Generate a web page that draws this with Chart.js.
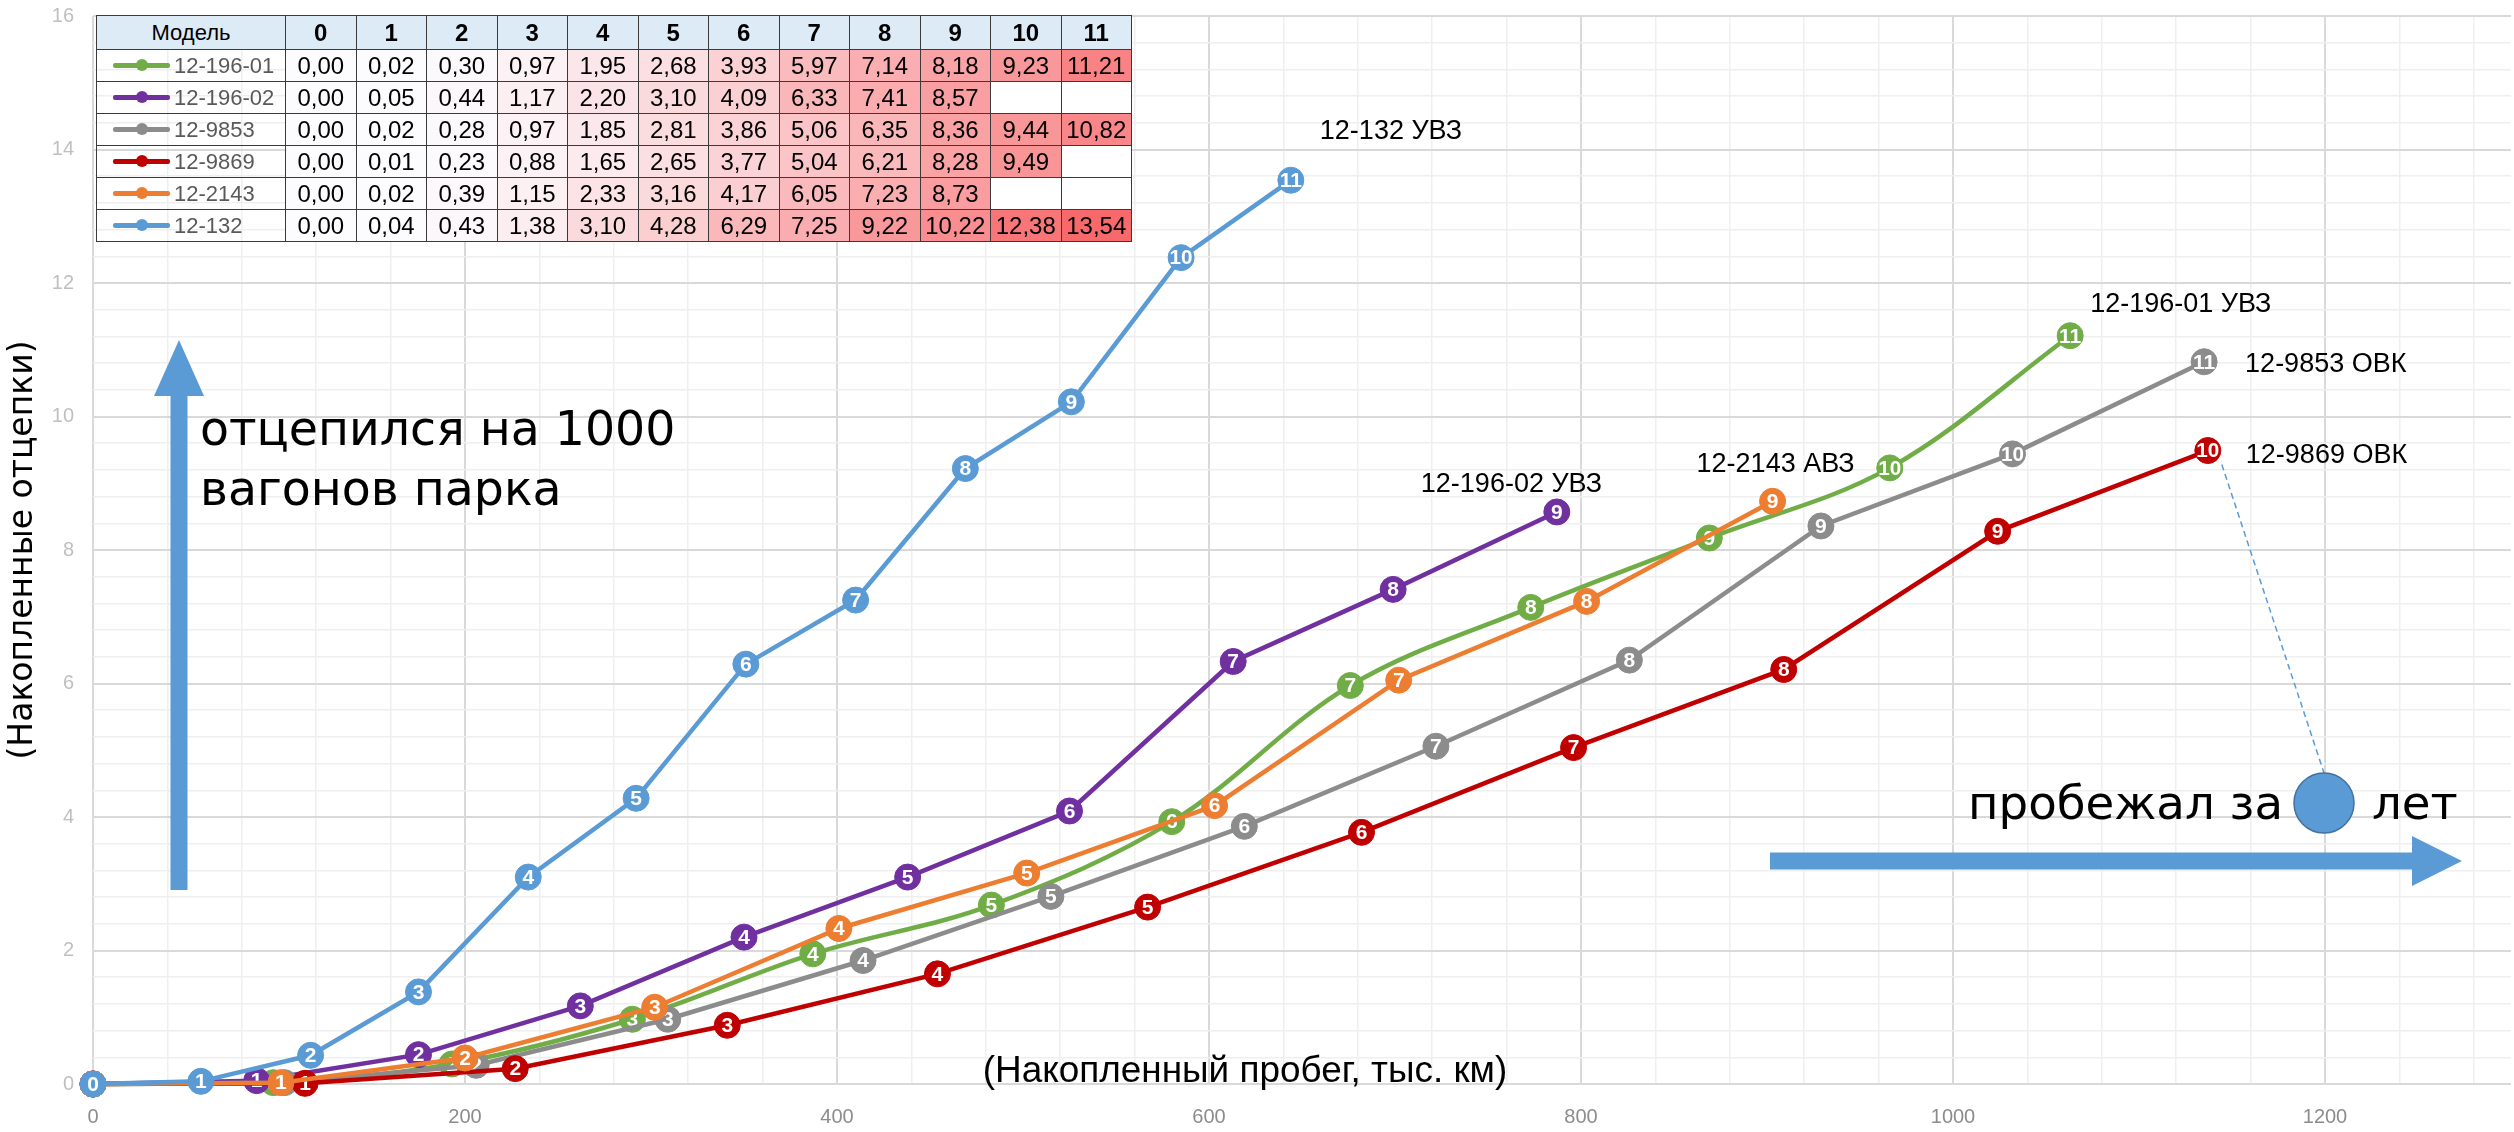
<!DOCTYPE html>
<html>
<head>
<meta charset="utf-8">
<script src="https://cdn.jsdelivr.net/npm/chart.js@4.4.1/dist/chart.umd.min.js"></script>
<style>
html,body{margin:0;padding:0;background:#fff;}
#wrap{position:relative;width:2514px;height:1132px;overflow:hidden;}
#c{position:absolute;left:0;top:0;}
#tbl{position:absolute;left:96px;top:15px;border-collapse:collapse;table-layout:fixed;width:1035px;
  font-family:'Liberation Sans',Arial,sans-serif;font-size:24px;color:#000;}
#tbl th,#tbl td{border:1.5px solid #3a3a3a;padding:0;text-align:center;white-space:nowrap;overflow:hidden;}
#tbl th{background:#DDEBF7;height:33px;font-weight:bold;}
#tbl th.m{font-weight:normal;font-size:22px;}
#tbl td{height:31px;}
#tbl td.m{text-align:left;padding-left:16px;color:#595959;font-size:22px;background:transparent;}
.lg{display:inline-block;position:relative;width:57px;height:14px;vertical-align:middle;margin-right:4px;top:-2px;}
.lg .ln{position:absolute;left:0;top:5px;width:57px;height:5px;border-radius:2px;}
.lg .dt{position:absolute;left:23px;top:1px;width:12px;height:12px;border-radius:50%;}
</style>
</head>
<body>
<div id="wrap">
<canvas id="c" width="2514" height="1132"></canvas>
<table id="tbl"></table>
</div>
<script>
// ---------------- DATA ----------------
const yearLabels = ['0','1','2','3','4','5','6','7','8','9','10','11'];
const modelNames = ['12-196-01','12-196-02','12-9853','12-9869','12-2143','12-132'];
const plantNames = ['УВЗ','УВЗ','ОВК','ОВК','АВЗ','УВЗ'];

// cumulative mileage, thousand km (x)
const mileage_12_196_01 = [0, 97, 193, 290, 387, 483, 580, 676, 773, 869, 966, 1063];
const mileage_12_196_02 = [0, 88, 175, 262, 350, 438, 525, 613, 699, 787];
const mileage_12_9853   = [0, 103, 206, 309, 414, 515, 619, 722, 826, 929, 1032, 1135];
const mileage_12_9869   = [0, 114, 227, 341, 454, 567, 682, 796, 909, 1024, 1137];
const mileage_12_2143   = [0, 101, 200, 302, 401, 502, 603, 702, 803, 903];
const mileage_12_132    = [0, 58, 117, 175, 234, 292, 351, 410, 469, 526, 585, 644];

// cumulative uncouplings per 1000 wagons (y)
const values_12_196_01 = [0.00, 0.02, 0.30, 0.97, 1.95, 2.68, 3.93, 5.97, 7.14, 8.18, 9.23, 11.21];
const values_12_196_02 = [0.00, 0.05, 0.44, 1.17, 2.20, 3.10, 4.09, 6.33, 7.41, 8.57];
const values_12_9853   = [0.00, 0.02, 0.28, 0.97, 1.85, 2.81, 3.86, 5.06, 6.35, 8.36, 9.44, 10.82];
const values_12_9869   = [0.00, 0.01, 0.23, 0.88, 1.65, 2.65, 3.77, 5.04, 6.21, 8.28, 9.49];
const values_12_2143   = [0.00, 0.02, 0.39, 1.15, 2.33, 3.16, 4.17, 6.05, 7.23, 8.73];
const values_12_132    = [0.00, 0.04, 0.43, 1.38, 3.10, 4.28, 6.29, 7.25, 9.22, 10.22, 12.38, 13.54];

const xTickLabels = ['0','200','400','600','800','1000','1200'];
const yTickLabels = ['0','2','4','6','8','10','12','14','16'];

// ---------------- STYLE ----------------
const seriesColors = ['#70AD47','#7030A0','#8C8C8C','#C00000','#ED7D31','#5B9BD5'];
const smoothSeries = [true,false,false,false,false,false];
const ARROW = '#5B9BD5';

const allMileage = [mileage_12_196_01, mileage_12_196_02, mileage_12_9853, mileage_12_9869, mileage_12_2143, mileage_12_132];
const allValues  = [values_12_196_01, values_12_196_02, values_12_9853, values_12_9869, values_12_2143, values_12_132];

// ---------------- TABLE ----------------
(function buildTable(){
  const tbl = document.getElementById('tbl');
  let maxV = 0;
  allValues.forEach(a => a.forEach(v => { if (v > maxV) maxV = v; }));
  const lo = [252,252,255], hi = [248,105,107];
  const heat = v => {
    const t = v / maxV;
    const c = lo.map((l,i) => Math.round(l + (hi[i]-l)*t));
    return 'rgb(' + c.join(',') + ')';
  };
  let html = '<colgroup><col style="width:189px">';
  yearLabels.forEach(() => html += '<col style="width:70.5px">');
  html += '</colgroup><tr><th class="m">Модель</th>';
  yearLabels.forEach(y => html += '<th>' + y + '</th>');
  html += '</tr>';
  modelNames.forEach((m, r) => {
    html += '<tr><td class="m"><span class="lg"><span class="ln" style="background:' + seriesColors[r] +
      '"></span><span class="dt" style="background:' + seriesColors[r] + '"></span></span>' + m + '</td>';
    yearLabels.forEach((y, i) => {
      const v = allValues[r][i];
      if (v === undefined) html += '<td style="background:#fff"></td>';
      else html += '<td style="background:' + heat(v) + '">' + v.toFixed(2).replace('.', ',') + '</td>';
    });
    html += '</tr>';
  });
  tbl.innerHTML = html;
})();

// ---------------- CHART ----------------
const isMult = (v, s) => Math.abs(v / s - Math.round(v / s)) < 1e-6;

const datasets = modelNames.map((name, i) => ({
  label: name + ' ' + plantNames[i],
  data: allMileage[i].map((x, k) => ({ x: x, y: allValues[i][k] })),
  borderColor: seriesColors[i],
  backgroundColor: seriesColors[i],
  pointBackgroundColor: seriesColors[i],
  pointBorderColor: seriesColors[i],
  pointRadius: 13,
  pointBorderWidth: 1,
  pointHoverRadius: 13,
  borderWidth: 4.5,
  tension: smoothSeries[i] ? 0.35 : 0,
  fill: false,
  clip: false,
  order: modelNames.length - i
}));

function fitFont(ctx, text, family, weight, width) {
  ctx.font = weight + ' 100px ' + family;
  const w = ctx.measureText(text).width;
  return 100 * width / w;
}

const pointLabels = {
  id: 'pointLabels',
  afterDatasetDraw(chart, args) {
    const ctx = chart.ctx;
    const meta = args.meta;
    ctx.save();
    ctx.fillStyle = '#ffffff';
    ctx.textAlign = 'center';
    ctx.textBaseline = 'middle';
    ctx.font = 'bold 21px "Liberation Sans Narrow","Liberation Sans",sans-serif';
    meta.data.forEach((pt, k) => {
      ctx.fillText(yearLabels[k], pt.x, pt.y + 1, 23);
    });
    ctx.restore();
  }
};

// label offsets (px) from last point of each series: [dx to left edge, dy to center]
const endLabelOffsets = [[20,-31],[-136,-27],[41,3],[38,5],[-76,-37],[29,-49]];

const noPad = s => { s.paddingLeft = 0; s.paddingRight = 0; s.paddingTop = 0; s.paddingBottom = 0; };

const annotate = {
  id: 'annotate',
  beforeDatasetsDraw(chart) {
    const ctx = chart.ctx;
    ctx.save();
    ctx.fillStyle = ARROW;
    // vertical arrow
    const vx = 179, vBottom = 890, vTip = 340, vHead = 56, vShaft = 17, vHeadW = 50;
    ctx.fillRect(vx - vShaft/2, vTip + vHead - 1, vShaft, vBottom - vTip - vHead + 1);
    ctx.beginPath();
    ctx.moveTo(vx, vTip); ctx.lineTo(vx + vHeadW/2, vTip + vHead); ctx.lineTo(vx - vHeadW/2, vTip + vHead); ctx.closePath(); ctx.fill();
    // horizontal arrow
    const hy = 861, hLeft = 1770, hTip = 2462, hHead = 50, hShaft = 17, hHeadW = 50;
    ctx.fillRect(hLeft, hy - hShaft/2, hTip - hHead - hLeft + 1, hShaft);
    ctx.beginPath();
    ctx.moveTo(hTip, hy); ctx.lineTo(hTip - hHead, hy - hHeadW/2); ctx.lineTo(hTip - hHead, hy + hHeadW/2); ctx.closePath(); ctx.fill();
    ctx.restore();
  },
  afterDraw(chart) {
    const ctx = chart.ctx;
    ctx.save();
    ctx.fillStyle = '#000';
    ctx.textBaseline = 'middle';
    ctx.textAlign = 'left';
    // big texts
    const big = 'DejaVu Sans';
    const s1 = fitFont(ctx, 'отцепился на 1000', big, 'normal', 476);
    ctx.font = s1.toFixed(1) + 'px "' + big + '"';
    ctx.fillText('отцепился на 1000', 200, 433);
    ctx.fillText('вагонов парка', 200, 493);
    const s2 = fitFont(ctx, 'пробежал за', big, 'normal', 315);
    ctx.font = s2.toFixed(1) + 'px "' + big + '"';
    ctx.fillText('пробежал за', 1968, 807);
    ctx.fillText('лет', 2372, 807);
    // x axis title (inside plot)
    const s3 = fitFont(ctx, '(Накопленный пробег, тыс. км)', '"Liberation Sans"', 'normal', 525);
    ctx.font = s3.toFixed(1) + 'px "Liberation Sans"';
    ctx.textAlign = 'center';
    ctx.fillText('(Накопленный пробег, тыс. км)', 1245, 1072);
    // series end labels
    ctx.textAlign = 'left';
    ctx.font = '27px "Liberation Sans"';
    chart.data.datasets.forEach((ds, i) => {
      const meta = chart.getDatasetMeta(i);
      const last = meta.data[meta.data.length - 1];
      ctx.fillText(ds.label, last.x + endLabelOffsets[i][0], last.y + endLabelOffsets[i][1]);
    });
    // dashed leader from 12-9869 last point to circle
    const redMeta = chart.getDatasetMeta(3);
    const rl = redMeta.data[redMeta.data.length - 1];
    const cx = 2324, cy = 803, cr = 30;
    ctx.strokeStyle = ARROW;
    ctx.lineWidth = 1.5;
    ctx.setLineDash([6, 4]);
    ctx.beginPath();
    ctx.moveTo(rl.x + 14, rl.y + 14);
    ctx.lineTo(cx, cy - cr);
    ctx.stroke();
    ctx.setLineDash([]);
    ctx.beginPath();
    ctx.arc(cx, cy, cr, 0, Math.PI * 2);
    ctx.fillStyle = ARROW;
    ctx.fill();
    ctx.strokeStyle = '#41719C';
    ctx.lineWidth = 1.5;
    ctx.stroke();
    ctx.restore();
  }
};

const chart = new Chart(document.getElementById('c'), {
  type: 'line',
  data: { datasets: datasets },
  options: {
    responsive: false,
    animation: false,
    devicePixelRatio: 1,
    layout: { autoPadding: false, padding: { top: 16, right: 3, left: 0, bottom: 0 } },
    plugins: { legend: { display: false }, tooltip: { enabled: false } },
    scales: {
      x: {
        type: 'linear', min: 0, max: 1300,
        afterFit: s => { s.height = 48; noPad(s); },
        afterBuildTicks: s => { const t = []; for (let v = 0; v <= 1280; v += 40) t.push({ value: v }); s.ticks = t; },
        border: { display: false },
        grid: {
          drawTicks: false,
          color: c => (c.tick && isMult(c.tick.value, 200)) ? '#D9D9D9' : '#EFEFEF',
          lineWidth: c => (c.tick && isMult(c.tick.value, 200)) ? 2 : 1.5
        },
        ticks: {
          autoSkip: false, maxRotation: 0, padding: 21,
          color: '#8C8C8C',
          font: { family: '"Liberation Sans Narrow","Liberation Sans"', size: 20 },
          callback: v => { const s = String(Math.round(v)); return (isMult(v, 200) && xTickLabels.includes(s)) ? s : ''; }
        }
      },
      y: {
        min: 0, max: 16,
        afterFit: s => { s.width = 93; noPad(s); },
        border: { display: false },
        grid: {
          drawTicks: false,
          color: c => (c.tick && isMult(c.tick.value, 2)) ? '#D9D9D9' : '#EFEFEF',
          lineWidth: c => (c.tick && isMult(c.tick.value, 2)) ? 2 : 1.5
        },
        ticks: {
          stepSize: 0.4, autoSkip: false, padding: 19,
          color: '#BFBFBF',
          font: { family: '"Liberation Sans Narrow","Liberation Sans"', size: 20 },
          callback: v => { const s = String(Math.round(v)); return (isMult(v, 2) && yTickLabels.includes(s)) ? s : ''; }
        },
        title: {
          display: true, text: '(Накопленные отцепки)', color: '#000',
          font: { family: '"DejaVu Sans"', size: 33 },
          padding: { top: 4, bottom: 0 }
        }
      }
    }
  },
  plugins: [pointLabels, annotate]
});
</script>
</body>
</html>
